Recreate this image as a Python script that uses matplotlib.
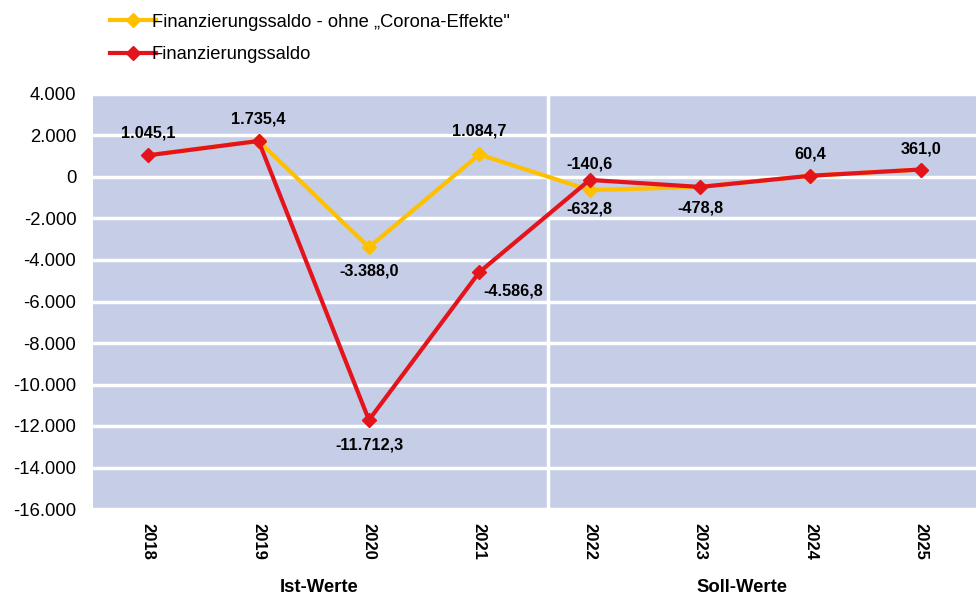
import numpy as np
import matplotlib.pyplot as plt

plt.rcParams['font.family'] = ['Liberation Sans', 'DejaVu Sans']

# Daten
jahre = ['2018', '2019', '2020', '2021', '2022', '2023', '2024', '2025']
ohne_corona = [1045.1, 1735.4, -3388.0, 1084.7, -632.8, -478.8, 60.4, 361.0]
saldo = [1045.1, 1735.4, -11712.3, -4586.8, -140.6, -478.8, 60.4, 361.0]
y_ticks = [4000, 2000, 0, -2000, -4000, -6000, -8000, -10000, -12000, -14000, -16000]

# Beschriftungen: (Index, Versatz in Pixel)
labels_gelb = [(2, (0, -24)), (3, (0, 23)), (4, (0, -19))]
labels_rot = [(0, (0, 22)), (1, (0, 22)), (2, (0, -25)), (3, (34, -19)),
              (4, (0, 16)), (5, (0, -21)), (6, (0, 22)), (7, (0, 21))]

def de(v, nach=1):
    s = f"{v:,.{nach}f}"
    return s.replace(",", "X").replace(".", ",").replace("X", ".")

gelb = '#ffc000'
rot = '#e3141c'
hg = '#c5cde7'

fig = plt.figure(figsize=(9.76, 5.97), dpi=100)
ax = fig.add_axes([93/976, 1 - 509/597, 1 - 93/976, (509 - 94)/597])
ax.set_facecolor(hg)

x = np.arange(len(jahre))
ax.plot(x, ohne_corona, color=gelb, lw=3, marker='D', ms=7.5, zorder=3,
        label='Finanzierungssaldo - ohne „Corona-Effekte"')
ax.plot(x, saldo, color=rot, lw=3, marker='D', ms=7.5, zorder=4,
        label='Finanzierungssaldo')

for i, off in labels_gelb:
    ax.annotate(de(ohne_corona[i]), (x[i], ohne_corona[i]), xytext=off,
                textcoords='offset pixels', ha='center', va='center',
                fontsize=11.7, fontweight='bold', zorder=5)
for i, off in labels_rot:
    ax.annotate(de(saldo[i]), (x[i], saldo[i]), xytext=off,
                textcoords='offset pixels', ha='center', va='center',
                fontsize=11.7, fontweight='bold', zorder=5)

ax.set_xlim(-0.5, len(jahre) - 0.5)
ax.set_ylim(-16000, 4000)
ax.set_yticks(y_ticks)
ax.set_yticklabels([de(v, 0) for v in y_ticks], fontsize=13.3)
ax.set_xticks(x)
ax.set_xticklabels(jahre, rotation=270, fontsize=12, fontweight='bold')
ax.tick_params(axis='both', length=0)
ax.tick_params(axis='y', pad=12)
ax.tick_params(axis='x', pad=10)
for s in ax.spines.values():
    s.set_visible(False)
ax.grid(axis='y', color='white', lw=2.5, zorder=1)
ax.axvline(3.62, color='white', lw=2.5, zorder=2)

fig.text(319/976, 1 - 588/597, 'Ist-Werte', ha='center', va='center',
         fontsize=13.3, fontweight='bold')
fig.text(742/976, 1 - 588/597, 'Soll-Werte', ha='center', va='center',
         fontsize=13.3, fontweight='bold')

fig.legend(loc='upper left', bbox_to_anchor=(96/976, 1.0), frameon=False,
           fontsize=13.2, handlelength=2.5, handletextpad=-0.2, labelspacing=0.85,
           borderaxespad=0.35)

fig.savefig('out.png', dpi=100)
